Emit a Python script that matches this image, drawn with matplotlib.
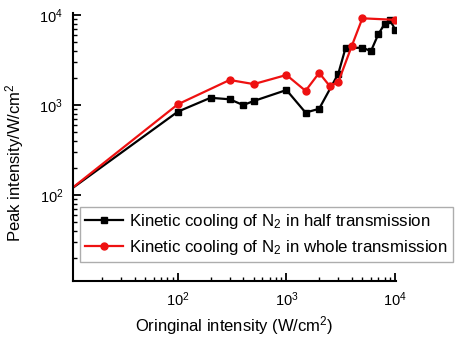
import matplotlib
matplotlib.use("Agg")
import matplotlib.pyplot as plt
from matplotlib.ticker import LogLocator

plt.rcParams['font.family'] = ['Liberation Sans', 'DejaVu Sans']
plt.rcParams['mathtext.fontset'] = 'custom'
plt.rcParams['mathtext.rm'] = 'Liberation Sans'
plt.rcParams['mathtext.it'] = 'Liberation Sans:italic'
plt.rcParams['mathtext.bf'] = 'Liberation Sans:bold'

# original intensity (W/cm^2) vs peak intensity (W/cm^2)
x_half = [1, 100, 200, 300, 400, 500, 1000, 1500, 2000, 3000, 3500, 5000, 6000, 7000, 8000, 9000, 10000]
y_half = [15, 845, 1205, 1160, 1000, 1110, 1470, 825, 910, 2230, 4300, 4340, 3980, 6100, 7950, 8800, 6900]

x_whole = [1, 100, 300, 500, 1000, 1500, 2000, 2500, 3000, 4000, 5000, 10000]
y_whole = [12.5, 1020, 1900, 1710, 2160, 1440, 2280, 1630, 1800, 4560, 9200, 8850]

label_half = "Kinetic cooling of N$_2$ in half transmission"
label_whole = "Kinetic cooling of N$_2$ in whole transmission"

fig = plt.figure(figsize=(4.61, 3.37), dpi=100)
ax = fig.add_axes([0.158, 0.167, 0.701, 0.794])

ax.plot(x_half, y_half, color='black', marker='s', markersize=4.5, lw=1.6, label=label_half)
ax.plot(x_whole, y_whole, color='#ee1111', marker='o', markersize=5, lw=1.6, label=label_whole)

ax.set_xscale('log')
ax.set_yscale('log')
ax.set_xlim(10.8, 10200)
ax.set_ylim(11.2, 10500)

for side in ['top', 'right']:
    ax.spines[side].set_visible(False)
for side in ['left', 'bottom']:
    ax.spines[side].set_linewidth(1.5)

ax.xaxis.set_major_locator(LogLocator(base=10, subs=(1.0,), numticks=10))
ax.yaxis.set_major_locator(LogLocator(base=10, subs=(1.0,), numticks=10))
ax.tick_params(which='major', direction='in', length=6, width=1.3, labelsize=10.5, pad=7)
ax.tick_params(which='minor', direction='in', length=3, width=1.0)
ax.set_yticks([100, 1000, 10000])

ax.set_xlabel("Oringinal intensity (W/cm$^2$)", fontsize=12)
ax.set_ylabel("Peak intensity/W/cm$^2$", fontsize=12)
ax.xaxis.set_label_coords(0.5, -0.125)
ax.yaxis.set_label_coords(-0.145, 0.44)

leg = ax.legend(loc='upper left', bbox_to_anchor=(0.022, 0.277), fontsize=12.2,
                frameon=True, fancybox=False, edgecolor='#999999',
                handlelength=2.25, handletextpad=0.35, labelspacing=0.44,
                borderpad=0.3, borderaxespad=0)
leg.get_frame().set_linewidth(1.0)

fig.savefig("out.png", dpi=100)
